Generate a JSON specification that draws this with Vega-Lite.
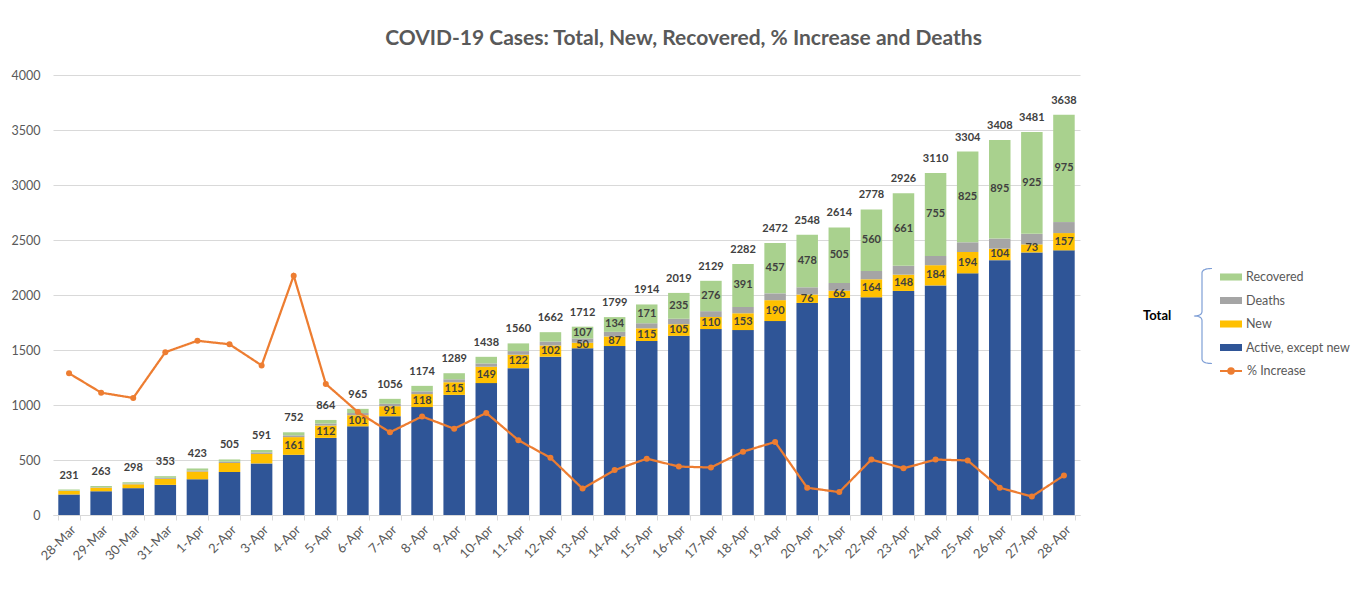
{
  "$schema": "https://vega.github.io/schema/vega-lite/v6.json",
  "autosize": "none",
  "width": 1027,
  "height": 440,
  "padding": {"left": 53, "top": 75, "right": 287, "bottom": 87},
  "background": "white",
  "config": {
    "font": "Lato",
    "view": {"stroke": null},
    "axis": {"labelColor": "#595959", "labelFontSize": 12.5, "title": null}
  },
  "title": {
    "text": "COVID-19 Cases: Total, New, Recovered, % Increase and Deaths",
    "fontSize": 21, "fontWeight": "bold", "color": "#595959",
    "anchor": "middle", "frame": "group", "dx": 117, "offset": 3, "baseline": "alphabetic"
  },
  "datasets": {
    "order": [
      {"series": "Active", "ord": 1},
      {"series": "New", "ord": 2},
      {"series": "Deaths", "ord": 3},
      {"series": "Recovered", "ord": 4}
    ]
  },
  "data": {"values": [
    {"date": "28-Mar", "idx": 0, "total": 231, "Active": 186, "New": 32, "Deaths": 5, "Recovered": 8, "pct": 0.161},
    {"date": "29-Mar", "idx": 1, "total": 263, "Active": 215, "New": 32, "Deaths": 6, "Recovered": 10, "pct": 0.139},
    {"date": "30-Mar", "idx": 2, "total": 298, "Active": 244, "New": 35, "Deaths": 7, "Recovered": 12, "pct": 0.133},
    {"date": "31-Mar", "idx": 3, "total": 353, "Active": 274, "New": 55, "Deaths": 9, "Recovered": 15, "pct": 0.185},
    {"date": "1-Apr", "idx": 4, "total": 423, "Active": 325, "New": 70, "Deaths": 10, "Recovered": 18, "pct": 0.198},
    {"date": "2-Apr", "idx": 5, "total": 505, "Active": 391, "New": 82, "Deaths": 12, "Recovered": 20, "pct": 0.194},
    {"date": "3-Apr", "idx": 6, "total": 591, "Active": 469, "New": 86, "Deaths": 14, "Recovered": 22, "pct": 0.170},
    {"date": "4-Apr", "idx": 7, "total": 752, "Active": 547, "New": 161, "Deaths": 16, "Recovered": 28, "pct": 0.272},
    {"date": "5-Apr", "idx": 8, "total": 864, "Active": 701, "New": 112, "Deaths": 18, "Recovered": 33, "pct": 0.149},
    {"date": "6-Apr", "idx": 9, "total": 965, "Active": 806, "New": 101, "Deaths": 20, "Recovered": 38, "pct": 0.117},
    {"date": "7-Apr", "idx": 10, "total": 1056, "Active": 898, "New": 91, "Deaths": 22, "Recovered": 45, "pct": 0.094},
    {"date": "8-Apr", "idx": 11, "total": 1174, "Active": 981, "New": 118, "Deaths": 25, "Recovered": 50, "pct": 0.112},
    {"date": "9-Apr", "idx": 12, "total": 1289, "Active": 1092, "New": 115, "Deaths": 27, "Recovered": 55, "pct": 0.098},
    {"date": "10-Apr", "idx": 13, "total": 1438, "Active": 1199, "New": 149, "Deaths": 30, "Recovered": 60, "pct": 0.116},
    {"date": "11-Apr", "idx": 14, "total": 1560, "Active": 1335, "New": 122, "Deaths": 33, "Recovered": 70, "pct": 0.085},
    {"date": "12-Apr", "idx": 15, "total": 1662, "Active": 1439, "New": 102, "Deaths": 36, "Recovered": 85, "pct": 0.065},
    {"date": "13-Apr", "idx": 16, "total": 1712, "Active": 1516, "New": 50, "Deaths": 39, "Recovered": 107, "pct": 0.030},
    {"date": "14-Apr", "idx": 17, "total": 1799, "Active": 1536, "New": 87, "Deaths": 42, "Recovered": 134, "pct": 0.051},
    {"date": "15-Apr", "idx": 18, "total": 1914, "Active": 1582, "New": 115, "Deaths": 46, "Recovered": 171, "pct": 0.064},
    {"date": "16-Apr", "idx": 19, "total": 2019, "Active": 1629, "New": 105, "Deaths": 50, "Recovered": 235, "pct": 0.055},
    {"date": "17-Apr", "idx": 20, "total": 2129, "Active": 1690, "New": 110, "Deaths": 53, "Recovered": 276, "pct": 0.054},
    {"date": "18-Apr", "idx": 21, "total": 2282, "Active": 1681, "New": 153, "Deaths": 57, "Recovered": 391, "pct": 0.072},
    {"date": "19-Apr", "idx": 22, "total": 2472, "Active": 1763, "New": 190, "Deaths": 62, "Recovered": 457, "pct": 0.083},
    {"date": "20-Apr", "idx": 23, "total": 2548, "Active": 1928, "New": 76, "Deaths": 66, "Recovered": 478, "pct": 0.031},
    {"date": "21-Apr", "idx": 24, "total": 2614, "Active": 1973, "New": 66, "Deaths": 70, "Recovered": 505, "pct": 0.026},
    {"date": "22-Apr", "idx": 25, "total": 2778, "Active": 1979, "New": 164, "Deaths": 75, "Recovered": 560, "pct": 0.063},
    {"date": "23-Apr", "idx": 26, "total": 2926, "Active": 2037, "New": 148, "Deaths": 80, "Recovered": 661, "pct": 0.053},
    {"date": "24-Apr", "idx": 27, "total": 3110, "Active": 2087, "New": 184, "Deaths": 84, "Recovered": 755, "pct": 0.063},
    {"date": "25-Apr", "idx": 28, "total": 3304, "Active": 2197, "New": 194, "Deaths": 88, "Recovered": 825, "pct": 0.062},
    {"date": "26-Apr", "idx": 29, "total": 3408, "Active": 2317, "New": 104, "Deaths": 92, "Recovered": 895, "pct": 0.031},
    {"date": "27-Apr", "idx": 30, "total": 3481, "Active": 2387, "New": 73, "Deaths": 96, "Recovered": 925, "pct": 0.021},
    {"date": "28-Apr", "idx": 31, "total": 3638, "Active": 2406, "New": 157, "Deaths": 100, "Recovered": 975, "pct": 0.045}
  ]},
  "encoding": {
    "x": {
      "field": "date", "type": "ordinal",
      "scale": {
        "domain": ["28-Mar","29-Mar","30-Mar","31-Mar","1-Apr","2-Apr","3-Apr","4-Apr","5-Apr","6-Apr","7-Apr","8-Apr","9-Apr","10-Apr","11-Apr","12-Apr","13-Apr","14-Apr","15-Apr","16-Apr","17-Apr","18-Apr","19-Apr","20-Apr","21-Apr","22-Apr","23-Apr","24-Apr","25-Apr","26-Apr","27-Apr","28-Apr"],
        "paddingInner": 0.33, "paddingOuter": 0.165
      },
      "axis": {"labelAngle": -45, "labelFontSize": 13, "domainColor": "#d9d9d9", "tickColor": "#d9d9d9", "tickBand": "extent", "tickSize": 5, "labelPadding": 3, "grid": false}
    }
  },
  "layer": [
    {
      "layer": [
        {
          "transform": [
            {"fold": ["Active", "New", "Deaths", "Recovered"], "as": ["series", "count"]},
            {"lookup": "series", "from": {"data": {"name": "order"}, "key": "series", "fields": ["ord"]}}
          ],
          "mark": {"type": "bar"},
          "encoding": {
            "y": {"field": "count", "type": "quantitative", "stack": "zero",
                  "scale": {"domain": [0, 4000]},
                  "axis": {"values": [0,250,500,750,1000,1250,1500,1750,2000,2250,2500,2750,3000,3250,3500,3750,4000], "format": "d", "grid": true, "gridColor": "#d9d9d9", "domain": false, "ticks": false, "labelPadding": 13}},
            "order": {"field": "ord", "type": "quantitative", "sort": "ascending"},
            "color": {
              "field": "series", "type": "nominal",
              "scale": {"domain": ["Recovered", "Deaths", "New", "Active"], "range": ["#A9D18E", "#A5A5A5", "#FFC000", "#2F5597"]},
              "legend": {
                "orient": "none", "legendX": 1090, "legendY": 191, "padding": 0,
                "title": ["", "Total"], "titleLineHeight": 11, "titleOrient": "left", "titleAnchor": "middle", "titleBaseline": "middle", "titleFontSize": 13, "titleFontWeight": "bold", "titleColor": "#000000", "titlePadding": 48,
                "labelExpr": "datum.label == 'Active' ? 'Active, except new' : datum.label",
                "symbolType": "M-1,-0.32H1V0.32H-1Z", "symbolSize": 484, "symbolStrokeWidth": 0,
                "labelFontSize": 12.5, "labelColor": "#595959", "labelOffset": 4, "rowPadding": 5.5
              }
            }
          }
        },
        {
          "mark": {"type": "text", "dy": -14, "fontWeight": "bold", "fontSize": 11, "color": "#404040", "baseline": "middle"},
          "encoding": {
            "y": {"field": "total", "type": "quantitative", "scale": {"domain": [0, 4000]}},
            "text": {"field": "total", "type": "quantitative"}
          }
        },
        {
          "transform": [
            {"filter": {"field": "idx", "gte": 7}},
            {"fold": ["Active", "New"], "as": ["series", "count"]},
            {"stack": "count", "groupby": ["date"], "sort": [{"field": "series", "order": "ascending"}], "as": ["s0", "s1"]},
            {"filter": {"field": "series", "equal": "New"}},
            {"fold": ["s0", "s1"], "as": ["edge", "pos"]},
            {"aggregate": [{"op": "mean", "field": "pos", "as": "mid"}], "groupby": ["date", "New"]}
          ],
          "mark": {"type": "text", "fontWeight": "bold", "fontSize": 11, "color": "#404040", "baseline": "middle"},
          "encoding": {
            "y": {"field": "mid", "type": "quantitative", "scale": {"domain": [0, 4000]}},
            "text": {"field": "New", "type": "quantitative"}
          }
        },
        {
          "transform": [
            {"filter": {"field": "idx", "gte": 16}},
            {"fold": ["Active", "New", "Deaths", "Recovered"], "as": ["series", "count"]},
            {"stack": "count", "groupby": ["date"], "sort": [{"field": "series", "order": "ascending"}], "as": ["s0", "s1"]},
            {"filter": {"field": "series", "equal": "Recovered"}},
            {"fold": ["s0", "s1"], "as": ["edge", "pos"]},
            {"aggregate": [{"op": "mean", "field": "pos", "as": "mid"}], "groupby": ["date", "Recovered"]}
          ],
          "mark": {"type": "text", "fontWeight": "bold", "fontSize": 11, "color": "#404040", "baseline": "middle"},
          "encoding": {
            "y": {"field": "mid", "type": "quantitative", "scale": {"domain": [0, 4000]}},
            "text": {"field": "Recovered", "type": "quantitative"}
          }
        }
      ]
    },
    {
      "layer": [
        {
          "mark": {"type": "line"},
          "encoding": {
            "y": {"field": "pct", "type": "quantitative", "scale": {"domain": [0, 0.5]},
                  "axis": {"orient": "right", "values": [0,0.05,0.1,0.15,0.2,0.25,0.3,0.35,0.4,0.45,0.5], "format": ".1%", "grid": false, "domain": false, "ticks": false, "labelPadding": 13}},
            "strokeWidth": {"value": 2.25},
            "stroke": {
              "datum": "% Increase",
              "scale": {"range": ["#ED7D31"]},
              "legend": {
                "orient": "none", "legendX": 1166, "legendY": 284, "padding": 0, "title": null,
                "symbolType": "M-1,0H1M0.25,0A0.25,0.25,0,1,1,-0.25,0A0.25,0.25,0,1,1,0.25,0Z", "symbolSize": 484,
                "symbolFillColor": "#ED7D31", "symbolStrokeWidth": 2,
                "labelFontSize": 12.5, "labelColor": "#595959", "labelOffset": 4
              }
            },
            "strokeDash": {
              "datum": "brace",
              "scale": {"range": [[1, 0]]},
              "legend": {
                "orient": "none", "legendX": 1100.5, "legendY": 192.5, "padding": 0, "title": null,
                "labelExpr": "''", "labelFontSize": 1,
                "symbolType": "M0.21,-1Q0,-1,0,-0.9L0,-0.1Q0,0,-0.17,0Q0,0,0,0.1L0,0.9Q0,1,0.21,1", "symbolSize": 9025,
                "symbolFillColor": "transparent", "symbolStrokeColor": "#7F9FD6", "symbolStrokeWidth": 1.2
              }
            }
          }
        },
        {
          "mark": {"type": "point", "filled": true, "color": "#ED7D31", "size": 36, "opacity": 1, "strokeWidth": 0},
          "encoding": {
            "y": {"field": "pct", "type": "quantitative", "scale": {"domain": [0, 0.5]}, "axis": null}
          }
        }
      ]
    }
  ],
  "resolve": {"scale": {"y": "independent"}}
}
